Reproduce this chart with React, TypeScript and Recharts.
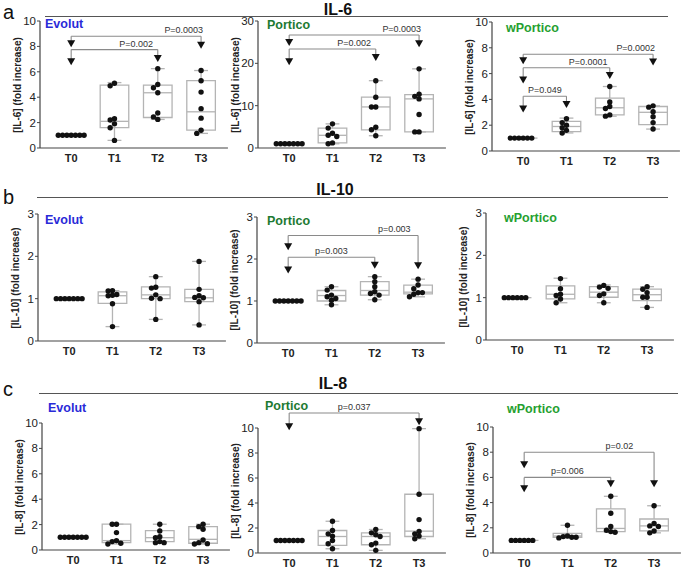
import React from 'react';
import { ComposedChart, XAxis, YAxis, Scatter, ReferenceArea, ReferenceLine } from 'recharts';

const FONT = '"Liberation Sans", Arial, sans-serif';
const categories = ['T0', 'T1', 'T2', 'T3'];

const EVOLUT = '#2a2ad8';
const PORTICO = '#1d7a32';
const WPORTICO = '#25a030';

// dot values per time point, box stats as [min, q1, median, q3, max]
const il6EvolutDots = [[1, 1, 1, 1, 1, 1, 1], [5.1, 4.9, 2.3, 2.2, 1.9, 1.6, 0.6], [6.25, 5.0, 4.75, 4.35, 2.75, 2.45, 2.25], [6.1, 5.3, 4.4, 3.1, 2.35, 1.4, 1.15]];
const il6EvolutBox = [[1, 1, 1, 1, 1], [0.6, 1.6, 2.1, 4.95, 5.15], [2.25, 2.4, 4.35, 4.95, 6.25], [1.15, 1.4, 2.85, 5.3, 6.1]];
const il6EvolutBrackets = [
  { from: 0, to: 2, y: 7.75, yFrom: 6.8, yTo: 7.05, label: 'P=0.002', at: 1.5 },
  { from: 0, to: 3, y: 8.8, yFrom: 8.2, yTo: 8.1, label: 'P=0.0003', at: 2.6 },
];

const il6PorticoDots = [[1, 1, 1, 1, 1, 1, 1], [5.7, 4.7, 3.5, 3.0, 2.7, 1.2, 1.0], [15.9, 12.0, 9.7, 9.7, 4.9, 4.3, 2.9], [18.7, 12.7, 12.2, 11.6, 7.9, 3.8, 3.8]];
const il6PorticoBox = [[1, 1, 1, 1, 1], [1.0, 1.2, 3.0, 4.7, 5.7], [2.9, 4.3, 9.7, 12.0, 15.9], [3.8, 3.8, 11.6, 12.6, 18.7]];
const il6PorticoBrackets = [
  { from: 0, to: 2, y: 23.4, yFrom: 20.4, yTo: 21.4, label: 'P=0.002', at: 1.5 },
  { from: 0, to: 3, y: 26.7, yFrom: 24.9, yTo: 24.6, label: 'P=0.0003', at: 2.6 },
];

const il6WPorticoDots = [[1, 1, 1, 1, 1, 1], [2.5, 2.2, 2.0, 1.8, 1.6, 1.4], [5.0, 3.8, 3.45, 3.3, 2.8, 2.7], [3.5, 3.4, 3.05, 2.65, 2.2, 1.7]];
const il6WPorticoBox = [[1, 1, 1, 1, 1], [1.4, 1.5, 1.9, 2.3, 2.55], [2.7, 2.8, 3.35, 4.1, 5.0], [1.7, 2.05, 3.0, 3.45, 3.5]];
const il6WPorticoBrackets = [
  { from: 0, to: 1, y: 4.25, yFrom: 3.25, yTo: 3.6, label: 'P=0.049', at: 0.5 },
  { from: 0, to: 2, y: 6.45, yFrom: 5.5, yTo: 5.85, label: 'P=0.0001', at: 1.5 },
  { from: 0, to: 3, y: 7.5, yFrom: 7.0, yTo: 6.9, label: 'P=0.0002', at: 2.6 },
];

const il10EvolutDots = [[1, 1, 1, 1, 1, 1, 1], [1.19, 1.18, 1.1, 1.08, 1.07, 0.88, 0.34], [1.52, 1.27, 1.25, 1.09, 1.01, 1.0, 0.51], [1.88, 1.22, 1.07, 1.03, 1.02, 0.93, 0.38]];
const il10EvolutBox = [[1, 1, 1, 1, 1], [0.34, 0.89, 1.07, 1.16, 1.19], [0.51, 1.0, 1.09, 1.28, 1.52], [0.38, 0.93, 1.02, 1.22, 1.88]];

const il10PorticoDots = [[1, 1, 1, 1, 1, 1, 1], [1.34, 1.26, 1.14, 1.1, 1.06, 1.02, 0.91], [1.58, 1.46, 1.34, 1.22, 1.18, 1.14, 1.03], [1.52, 1.38, 1.29, 1.2, 1.2, 1.16, 1.1]];
const il10PorticoBox = [[1, 1, 1, 1, 1], [0.91, 1.0, 1.13, 1.25, 1.34], [1.03, 1.14, 1.25, 1.46, 1.58], [1.1, 1.17, 1.21, 1.38, 1.52]];
const il10PorticoBrackets = [
  { from: 0, to: 2, y: 2.04, yFrom: 1.74, yTo: 1.85, label: 'p=0.003', at: 1.0 },
  { from: 0, to: 3, y: 2.56, yFrom: 2.29, yTo: 1.84, label: 'p=0.003', at: 2.45 },
];

const il10WPorticoDots = [[1, 1, 1, 1, 1, 1], [1.45, 1.21, 1.08, 1.05, 0.97, 0.88], [1.29, 1.25, 1.22, 1.09, 1.05, 0.88], [1.26, 1.2, 1.12, 1.01, 1.01, 0.77]];
const il10WPorticoBox = [[1, 1, 1, 1, 1], [0.88, 0.97, 1.08, 1.28, 1.46], [0.88, 1.01, 1.13, 1.26, 1.3], [0.77, 0.93, 1.07, 1.2, 1.26]];

const il8EvolutDots = [[1, 1, 1, 1, 1, 1, 1], [2.03, 2.03, 1.37, 0.74, 0.66, 0.53, 0.47], [2.03, 1.5, 1.05, 0.97, 0.66, 0.58, 0.58], [2.03, 1.84, 1.63, 0.79, 0.58, 0.5, 0.47]];
const il8EvolutBox = [[1, 1, 1, 1, 1], [0.47, 0.58, 0.74, 2.03, 2.03], [0.58, 0.66, 0.97, 1.53, 2.03], [0.47, 0.53, 0.84, 1.84, 2.03]];

const il8PorticoDots = [[1, 1, 1, 1, 1, 1, 1], [2.54, 1.8, 1.53, 1.35, 1.0, 0.74, 0.34], [1.88, 1.61, 1.46, 1.32, 0.79, 0.66, 0.21], [9.95, 4.7, 2.67, 1.72, 1.53, 1.35, 1.14]];
const il8PorticoBox = [[1, 1, 1, 1, 1], [0.34, 0.61, 1.32, 1.8, 2.54], [0.21, 0.66, 1.32, 1.61, 1.88], [1.14, 1.32, 1.75, 4.7, 9.95]];
const il8PorticoBrackets = [
  { from: 0, to: 3, y: 11.2, yFrom: 10.1, yTo: 10.5, label: 'p=0.037', at: 1.5 },
];

const il8WPorticoDots = [[1, 1, 1, 1, 1, 1], [2.2, 1.35, 1.3, 1.25, 1.2, 1.25], [4.5, 3.15, 2.1, 1.8, 1.7, 1.65], [3.75, 2.35, 2.15, 2.1, 1.75, 1.6]];
const il8WPorticoBox = [[1, 1, 1, 1, 1], [1.2, 1.25, 1.35, 1.55, 2.2], [1.65, 1.7, 1.95, 3.5, 4.5], [1.6, 1.75, 2.15, 2.7, 3.75]];
const il8WPorticoBrackets = [
  { from: 0, to: 2, y: 6.0, yFrom: 5.1, yTo: 5.5, label: 'p=0.006', at: 1.0 },
  { from: 0, to: 3, y: 8.0, yFrom: 7.0, yTo: 5.5, label: 'p=0.02', at: 2.2 },
];

const X0 = -0.72;
const X1 = 3.62;
const SPACING = 43.3;
const Y_AXIS_W = 30;
const MT = 10;

type Bracket = { from: number; to: number; y: number; yFrom: number; yTo: number; label: string; at: number };

interface PanelCfg {
  axisX: number;
  tickTop: number;
  bottom: number;
  yMax: number;
  yTicks: number[];
  domTop?: number;
  dots: number[][];
  boxes: number[][];
  brackets?: Bracket[];
  yLabel: string;
  group: string;
  groupColor: string;
  groupX: number;
  groupY: number;
}

// simple beeswarm: push overlapping dots sideways (pixels)
function swarm(values: number[], ppu: number, step = 4.3): number[] {
  const placed: { x: number; y: number }[] = [];
  return values.map((v) => {
    const y = v * ppu;
    for (let k = 0; k < 30; k++) {
      const n = Math.ceil(k / 2);
      const cand = k === 0 ? 0 : (k % 2 === 1 ? -n : n) * step;
      if (placed.every((p) => Math.hypot(p.x - cand, p.y - y) >= step - 0.01)) {
        placed.push({ x: cand, y });
        return cand;
      }
    }
    return 0;
  });
}

const Dot = (p: any) => <circle cx={p.cx} cy={p.cy} r={2.7} fill="#111" />;
const Arrow = (p: any) => (
  <path d={`M${p.cx - 4},${p.cy - 3.5}L${p.cx + 4},${p.cy - 3.5}L${p.cx},${p.cy + 3.5}Z`} fill="#111" />
);
const PLabel = (p: any) => (
  <text x={p.cx} y={p.cy - 3} textAnchor="middle" fontSize={9} fill="#333" fontFamily={FONT}>
    {p.payload.label}
  </text>
);

const GRAY = '#b4b4b4';
const BR = '#8a8a8a';

function Panel({ cfg }: { cfg: PanelCfg }) {
  const ppu = (cfg.bottom - cfg.tickTop) / cfg.yMax;
  const domTop = cfg.domTop ?? cfg.yMax;
  const plotH = ppu * domTop;
  const plotW = SPACING * (X1 - X0);
  const left = cfg.axisX - Y_AXIS_W;
  const top = cfg.bottom - plotH - MT;

  const dotData = cfg.dots.flatMap((vals, i) => {
    const offs = swarm(vals, ppu);
    return vals.map((v, j) => ({ x: i + offs[j] / SPACING, y: v }));
  });
  const brackets = cfg.brackets ?? [];
  const arrowData = brackets.flatMap((b) => [
    { x: b.from, y: b.yFrom },
    { x: b.to, y: b.yTo },
  ]);
  const labelData = brackets.map((b) => ({ x: b.at, y: b.y, label: b.label }));

  return (
    <>
      <div style={{ position: 'absolute', left, top }}>
        <ComposedChart width={Y_AXIS_W + plotW + 4} height={MT + plotH + 20} margin={{ top: MT, right: 4, bottom: 0, left: 0 }}>
          <XAxis
            type="number"
            dataKey="x"
            domain={[X0, X1]}
            ticks={[0, 1, 2, 3]}
            interval={0}
            tickFormatter={(v: number) => categories[v]}
            axisLine={{ stroke: '#444', strokeWidth: 1.2 }}
            tickLine={false}
            tickSize={4}
            tick={{ fontSize: 11, fontWeight: 'bold', fill: '#222', fontFamily: FONT }}
            height={20}
          />
          <YAxis
            type="number"
            dataKey="y"
            domain={[0, domTop]}
            ticks={cfg.yTicks}
            interval={0}
            axisLine={false}
            tickLine={{ stroke: '#444' }}
            tickSize={3}
            tickMargin={1}
            tick={{ fontSize: 11.5, fill: '#222', fontFamily: FONT }}
            width={Y_AXIS_W}
          />
          <ReferenceLine segment={[{ x: X0, y: 0 }, { x: X0, y: cfg.yMax }]} stroke="#444" strokeWidth={1.2} ifOverflow="visible" />
          {cfg.boxes.map((b, i) => (
            <ReferenceArea key={`box${i}`} x1={i - 0.33} x2={i + 0.33} y1={b[1]} y2={b[3]} fill="none" fillOpacity={0} stroke={GRAY} strokeWidth={1.3} ifOverflow="visible" />
          ))}
          {cfg.boxes.map((b, i) => (
            <ReferenceLine key={`med${i}`} segment={[{ x: i - 0.33, y: b[2] }, { x: i + 0.33, y: b[2] }]} stroke={GRAY} strokeWidth={1.3} ifOverflow="visible" />
          ))}
          {cfg.boxes.map((b, i) => (
            <ReferenceLine key={`wl${i}`} segment={[{ x: i, y: b[0] }, { x: i, y: b[1] }]} stroke={GRAY} strokeWidth={1.3} ifOverflow="visible" />
          ))}
          {cfg.boxes.map((b, i) => (
            <ReferenceLine key={`wh${i}`} segment={[{ x: i, y: b[3] }, { x: i, y: b[4] }]} stroke={GRAY} strokeWidth={1.3} ifOverflow="visible" />
          ))}
          {cfg.boxes.map((b, i) => (
            <ReferenceLine key={`cl${i}`} segment={[{ x: i - 0.16, y: b[0] }, { x: i + 0.16, y: b[0] }]} stroke={GRAY} strokeWidth={1.3} ifOverflow="visible" />
          ))}
          {cfg.boxes.map((b, i) => (
            <ReferenceLine key={`ch${i}`} segment={[{ x: i - 0.16, y: b[4] }, { x: i + 0.16, y: b[4] }]} stroke={GRAY} strokeWidth={1.3} ifOverflow="visible" />
          ))}
          {brackets.map((b, k) => (
            <ReferenceLine key={`bh${k}`} segment={[{ x: b.from, y: b.y }, { x: b.to, y: b.y }]} stroke={BR} strokeWidth={1.1} ifOverflow="visible" />
          ))}
          {brackets.map((b, k) => (
            <ReferenceLine key={`bl${k}`} segment={[{ x: b.from, y: b.y }, { x: b.from, y: b.yFrom }]} stroke={BR} strokeWidth={1.1} ifOverflow="visible" />
          ))}
          {brackets.map((b, k) => (
            <ReferenceLine key={`br${k}`} segment={[{ x: b.to, y: b.y }, { x: b.to, y: b.yTo }]} stroke={BR} strokeWidth={1.1} ifOverflow="visible" />
          ))}
          <Scatter data={dotData} shape={Dot} isAnimationActive={false} />
          {arrowData.length > 0 && <Scatter data={arrowData} shape={Arrow} isAnimationActive={false} />}
          {labelData.length > 0 && <Scatter data={labelData} shape={PLabel} isAnimationActive={false} />}
        </ComposedChart>
      </div>
      <div
        style={{
          position: 'absolute',
          left: cfg.axisX - 23,
          top: (cfg.tickTop + cfg.bottom) / 2,
          transform: 'translate(-50%, -50%) rotate(-90deg)',
          whiteSpace: 'nowrap',
          fontSize: 10,
          fontWeight: 'bold',
          color: '#222',
          fontFamily: FONT,
        }}
      >
        {cfg.yLabel}
      </div>
      <div
        style={{
          position: 'absolute',
          left: cfg.groupX,
          top: cfg.groupY - 8,
          fontSize: 12.5,
          fontWeight: 'bold',
          color: cfg.groupColor,
          fontFamily: FONT,
          lineHeight: '16px',
          whiteSpace: 'nowrap',
        }}
      >
        {cfg.group}
      </div>
    </>
  );
}

const ticks10 = [0, 2, 4, 6, 8, 10];
const ticks30 = [0, 10, 20, 30];
const ticks3 = [0, 1, 2, 3];

const panels: PanelCfg[] = [
  { axisX: 40, tickTop: 21, bottom: 148, yMax: 10, yTicks: ticks10, dots: il6EvolutDots, boxes: il6EvolutBox, brackets: il6EvolutBrackets, yLabel: '[IL-6] (fold increase)', group: 'Evolut', groupColor: EVOLUT, groupX: 45, groupY: 24 },
  { axisX: 258, tickTop: 21, bottom: 148, yMax: 30, yTicks: ticks30, dots: il6PorticoDots, boxes: il6PorticoBox, brackets: il6PorticoBrackets, yLabel: '[IL-6] (fold increase)', group: 'Portico', groupColor: PORTICO, groupX: 267, groupY: 25 },
  { axisX: 492, tickTop: 22, bottom: 151, yMax: 10, yTicks: ticks10, dots: il6WPorticoDots, boxes: il6WPorticoBox, brackets: il6WPorticoBrackets, yLabel: '[IL-6] (fold increase)', group: 'wPortico', groupColor: WPORTICO, groupX: 506, groupY: 28 },
  { axisX: 38, tickTop: 214, bottom: 341, yMax: 3, yTicks: ticks3, dots: il10EvolutDots, boxes: il10EvolutBox, yLabel: '[IL-10] (fold increase)', group: 'Evolut', groupColor: EVOLUT, groupX: 45, groupY: 220 },
  { axisX: 257, tickTop: 217, bottom: 343, yMax: 3, yTicks: ticks3, dots: il10PorticoDots, boxes: il10PorticoBox, brackets: il10PorticoBrackets, yLabel: '[IL-10] (fold increase)', group: 'Portico', groupColor: PORTICO, groupX: 267, groupY: 221 },
  { axisX: 486, tickTop: 213, bottom: 340, yMax: 3, yTicks: ticks3, dots: il10WPorticoDots, boxes: il10WPorticoBox, yLabel: '[IL-10] (fold increase)', group: 'wPortico', groupColor: WPORTICO, groupX: 504, groupY: 218 },
  { axisX: 42, tickTop: 423, bottom: 550, yMax: 10, yTicks: ticks10, dots: il8EvolutDots, boxes: il8EvolutBox, yLabel: '[IL-8] (fold increase)', group: 'Evolut', groupColor: EVOLUT, groupX: 48, groupY: 408 },
  { axisX: 258, tickTop: 428, bottom: 553, yMax: 10, yTicks: ticks10, domTop: 12, dots: il8PorticoDots, boxes: il8PorticoBox, brackets: il8PorticoBrackets, yLabel: '[IL-8] (fold increase)', group: 'Portico', groupColor: PORTICO, groupX: 265, groupY: 406 },
  { axisX: 493, tickTop: 427, bottom: 553, yMax: 10, yTicks: ticks10, dots: il8WPorticoDots, boxes: il8WPorticoBox, brackets: il8WPorticoBrackets, yLabel: '[IL-8] (fold increase)', group: 'wPortico', groupColor: WPORTICO, groupX: 507, groupY: 409 },
];

const rows = [
  { letter: 'a', letterY: 12, title: 'IL-6', titleX: 338, titleY: 8.5, lineY: 16, lineX1: 45, lineX2: 668 },
  { letter: 'b', letterY: 197, title: 'IL-10', titleX: 335, titleY: 189, lineY: 197, lineX1: 37, lineX2: 668 },
  { letter: 'c', letterY: 389, title: 'IL-8', titleX: 333, titleY: 383, lineY: 393, lineX1: 39, lineX2: 678 },
];

export default function App() {
  return (
    <div style={{ position: 'absolute', left: 0, top: 0, width: 685, height: 570, background: '#fff', fontFamily: FONT, overflow: 'hidden' }}>
      {rows.map((r) => (
        <React.Fragment key={r.letter}>
          <div style={{ position: 'absolute', left: 3, top: r.letterY - 12, fontSize: 20, lineHeight: '24px', color: '#111' }}>{r.letter}</div>
          <div style={{ position: 'absolute', left: r.lineX1, top: r.lineY, width: r.lineX2 - r.lineX1, borderTop: '1.3px solid #555' }} />
          <div
            style={{
              position: 'absolute',
              left: r.titleX,
              top: r.titleY,
              transform: 'translate(-50%, -50%)',
              fontSize: 16,
              lineHeight: '17px',
              fontWeight: 'bold',
              color: '#111',
              whiteSpace: 'nowrap',
            }}
          >
            {r.title}
          </div>
        </React.Fragment>
      ))}
      {panels.map((p, i) => (
        <Panel key={i} cfg={p} />
      ))}
    </div>
  );
}
